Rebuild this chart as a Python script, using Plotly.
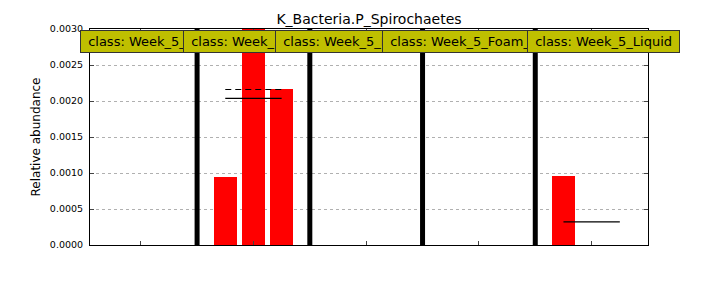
import plotly.graph_objects as go

# ---- data ----
classes = ["Week_5_Biofilm", "Week_5_Digestate", "Week_5_Effluent", "Week_5_Foam_Layer", "Week_5_Liquid"]
group_values = [
    [0.0, 0.0, 0.0],
    [0.00094, 0.00301, 0.00216],
    [0.0, 0.0, 0.0],
    [0.0, 0.0, 0.0],
    [0.00096, 0.0, 0.0],
]
y_ticks = [0.0, 0.0005, 0.0010, 0.0015, 0.0020, 0.0025, 0.0030]
title = "K_Bacteria.P_Spirochaetes"
y_title = "Relative abundance"

# ---- layout constants ----
W, H = 720, 288
ML, MR, MT, MB = 90, 72, 29, 43
XR = (-0.8, 19.0)
label_left_px = [80, 183, 275, 382, 527]
FONT = "DejaVu Sans"

fig = go.Figure()

xs, ys = [], []
seps = []
centers = []
pos = 0
group_pos = []
for gi, vals in enumerate(group_values):
    p = list(range(pos, pos + len(vals)))
    group_pos.append(p)
    xs += p
    ys += vals
    centers.append((p[0] + p[-1]) / 2)
    pos += len(vals)
    if gi < len(group_values) - 1:
        seps.append(pos)
        pos += 1

fig.add_trace(go.Bar(x=xs, y=ys, width=0.8, marker=dict(color="#ff0000", line=dict(width=0)),
                     showlegend=False, hoverinfo="skip"))

for s in seps:
    fig.add_trace(go.Scatter(x=[s, s], y=[0, y_ticks[-1]], mode="lines",
                             line=dict(color="black", width=5), showlegend=False, hoverinfo="skip"))

for p, vals in zip(group_pos, group_values):
    m = sum(vals) / len(vals)
    med = sorted(vals)[len(vals) // 2]
    # lines lying on y=0 coincide with the x axis line and are not drawn separately
    if m > 0:
        fig.add_trace(go.Scatter(x=[p[0], p[-1]], y=[m, m], mode="lines",
                                 line=dict(color="black", width=1.2), showlegend=False, hoverinfo="skip"))
    if med > 0:
        fig.add_trace(go.Scatter(x=[p[0], p[-1]], y=[med, med], mode="lines",
                                 line=dict(color="black", width=1.2, dash="6px,4px"),
                                 showlegend=False, hoverinfo="skip"))

pw = W - ML - MR
for c, lx in zip(classes, label_left_px):
    fig.add_annotation(text="\u00a0class: " + c + "\u00a0", xref="paper", yref="paper",
                       x=(lx - ML) / pw, y=1 - 1 / (H - MT - MB), xanchor="left", yanchor="top",
                       showarrow=False, font=dict(family=FONT, size=13, color="black"),
                       bgcolor="#bfbf00", bordercolor="#333333", borderwidth=1, borderpad=3)

fig.update_layout(
    width=W, height=H, margin=dict(l=ML, r=MR, t=MT, b=MB, autoexpand=False),
    paper_bgcolor="white", plot_bgcolor="white",
    font=dict(family=FONT, color="black"),
    title=dict(text=title, x=(ML + pw / 2) / W, xanchor="center", y=1 - 19 / H, yanchor="middle",
               font=dict(size=14, family=FONT, color="black")),
    bargap=0,
    xaxis=dict(range=list(XR), tickvals=centers, ticktext=[""] * len(centers), ticks="inside",
               ticklen=4, tickcolor="#444", showline=True, linecolor="black", linewidth=1,
               mirror="ticks", showgrid=False, zeroline=False, layer="above traces"),
    yaxis=dict(range=[0, y_ticks[-1]], tickvals=y_ticks, ticktext=[f"{v:.4f}" for v in y_ticks],
               ticks="inside", ticklen=4, tickcolor="#444", showline=True, linecolor="black",
               linewidth=1, mirror="ticks", showgrid=True, gridcolor="#b0b0b0", griddash="3px,3px",
               gridwidth=1, zeroline=False, layer="above traces",
               tickfont=dict(size=9.5, family=FONT), ticklabelstandoff=4,
               title=dict(text=y_title, font=dict(size=12, family=FONT), standoff=6)),
)

fig.write_html("out.html")
